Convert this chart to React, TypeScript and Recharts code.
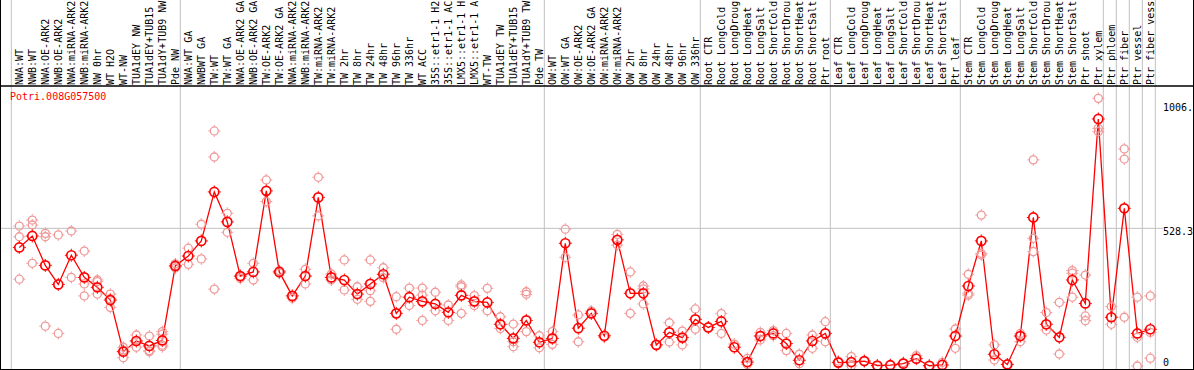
import { ComposedChart, Line, Scatter, XAxis, YAxis, ReferenceLine } from "recharts";

const geneId = "Potri.008G057500";

const categories = [
  "NWA:WT", "NWB:WT", "NWA:OE-ARK2", "NWB:OE-ARK2", "NWA:miRNA-ARK2", "NWB:miRNA-ARK2",
  "NW 0hr", "WT H2O", "WT-NW", "TUA1dEY NW", "TUA1dEY+TUB15 NW", "TUA1dY+TUB9 NW", "Pde NW",
  "NWA:WT GA", "NWBWT GA", "TW:WT", "TW:WT GA", "NWA:OE-ARK2 GA", "NWB:OE-ARK2 GA",
  "TW:OE-ARK2", "TW:OE-ARK2 GA", "NWA:miRNA-ARK2 GA", "NWB:miRNA-ARK2 GA", "TW:miRNA-ARK2",
  "TW:miRNA-ARK2 GA", "TW 2hr", "TW 8hr", "TW 24hr", "TW 48hr", "TW 96hr", "TW 336hr",
  "WT ACC", "35S::etr1-1 H2O", "35S::etr1-1 ACC", "LMX5::etr1-1 H2O", "LMX5::etr1-1 ACC",
  "WT-TW", "TUA1dEY TW", "TUA1dEY+TUB15 TW", "TUA1dY+TUB9 TW", "Pde TW",
  "OW:WT", "OW:WT GA", "OW:OE-ARK2", "OW:OE-ARK2 GA", "OW:miRNA-ARK2", "OW:miRNA-ARK2 GA",
  "OW 2hr", "OW 8hr", "OW 24hr", "OW 48hr", "OW 96hr", "OW 336hr",
  "Root CTR", "Root LongCold", "Root LongDrought", "Root LongHeat", "Root LongSalt",
  "Root ShortCold", "Root ShortDrought", "Root ShortHeat", "Root ShortSalt", "Ptr root",
  "Leaf CTR", "Leaf LongCold", "Leaf LongDrought", "Leaf LongHeat", "Leaf LongSalt",
  "Leaf ShortCold", "Leaf ShortDrought", "Leaf ShortHeat", "Leaf ShortSalt", "Ptr leaf",
  "Stem CTR", "Stem LongCold", "Stem LongDrought", "Stem LongHeat", "Stem LongSalt",
  "Stem ShortCold", "Stem ShortDrought", "Stem ShortHeat", "Stem ShortSalt", "Ptr shoot",
  "Ptr xylem", "Ptr phloem", "Ptr fiber", "Ptr vessel", "Ptr fiber vessel",
];

// mean expression per sample
const means = [
  455, 499, 386, 313, 425, 340, 302, 253, 55, 96, 77, 98, 384,
  422, 480, 668, 553, 345, 361, 672, 361, 269, 345, 647, 340, 330, 276, 315, 352, 202,
  264, 248, 238, 206, 271, 248, 244, 160, 106, 175, 91,
  106, 471, 145, 202, 116, 484, 279, 279, 81, 129, 109, 179,
  148, 171, 72, 15, 115, 125, 86, 22, 96, 125,
  13, 15, 19, 2, 3, 9, 28, 1, 4, 115,
  307, 480, 45, 6, 115, 570, 160, 110, 330, 240, 948,
  187, 605, 125, 141,
];

// individual replicates per sample
const replicates = [
  [537, 496, 333], [560, 541, 394], [509, 496, 153], [503, 125], [518, 340],
  [441, 315, 269], [330, 324, 276], [276, 258, 225], [72, 61, 32], [119, 96, 72],
  [115, 59, 55], [132, 122, 80, 74], [392, 384, 376],
  [452, 390], [544, 411], [902, 802, 295], [586, 513], [343, 336], [394, 330],
  [714, 631], [366, 356], [260], [371, 315], [724, 576], [353, 330], [407, 292],
  [304, 256], [407, 289, 248], [377, 339], [266, 141], [299, 232], [299, 272, 175],
  [283, 212], [234, 175], [311, 304, 202], [270, 232], [298, 212], [189, 144],
  [161, 93, 74], [285, 275, 132], [116, 70],
  [132, 83], [525, 417], [196, 93], [211], [110], [505, 464], [361, 202],
  [307, 296, 238], [81], [166, 92], [134, 81], [219, 141],
  [148], [201, 125], [84], [29, 6], [129, 100], [136, 116], [125, 59], [45, 9],
  [119, 68], [170, 93],
  [19], [36, 0], [19], [0], [3], [13], [40], [1], [14], [142, 68],
  [352, 279, 272], [579, 432, 426], [81, 23], [6], [125, 93], [791, 490, 439],
  [205, 138], [244, 46], [366, 356, 264], [349, 192, 174], [1027, 912, 899],
  [228, 160], [833, 794, 187], [264, 110, 0], [269, 129, 30],
];

// index of first sample in each group (last = end)
const groupStarts = [0, 13, 41, 53, 63, 73, 84, 85, 86, 87, 88];

const yTicks = [0, 528.3, 1006];
const yTickLabels = ["0", "528.3", "1006."];

const meanData = means.map((v, i) => ({ i, v }));
const repData = replicates.flatMap((vals, i) => vals.map((v) => ({ i, v })));

const FONT = '"DejaVu Sans Mono", monospace';
const X_DOMAIN = [-1.4846, 90.3615];
const Y_DOMAIN = [-15.35, 1074.4];
const Y_TOP_OF_IMAGE = 1404.5;
const MAX_CHARS = 14; // header only has room for this many

const shortLabel = (s: string) => (s.length > MAX_CHARS ? s.slice(0, MAX_CHARS).trimEnd() : s);

const CatTick = (props: any) => {
  const { x, payload } = props;
  return (
    <text
      transform={`translate(${x + 3.6},85) rotate(-90)`}
      fontFamily={FONT}
      fontSize={10}
      fill="#000"
    >
      {shortLabel(categories[payload.value])}
    </text>
  );
};

const ValTick = (props: any) => {
  const { y, payload } = props;
  const idx = yTicks.indexOf(payload.value);
  return (
    <text x={1163} y={Math.min(y + 7, 365.5)} fontFamily={FONT} fontSize={10} fill="#000">
      {yTickLabels[idx]}
    </text>
  );
};

const MeanDot = (props: any) => {
  const { cx, cy, index } = props;
  if (cx == null || cy == null) return <g key={index} />;
  return (
    <g key={index}>
      <circle cx={cx} cy={cy} r={4.5} fill="none" stroke="#ff0000" strokeWidth={1.7} />
      <line x1={cx} y1={cy - 6.5} x2={cx} y2={cy - 5} stroke="#ff0000" strokeWidth={1} />
      <line x1={cx} y1={cy + 5} x2={cx} y2={cy + 6.5} stroke="#ff0000" strokeWidth={1} />
      <line x1={cx - 6.5} y1={cy} x2={cx - 5} y2={cy} stroke="#ff0000" strokeWidth={1} />
      <line x1={cx + 5} y1={cy} x2={cx + 6.5} y2={cy} stroke="#ff0000" strokeWidth={1} />
    </g>
  );
};

const RepDot = (props: any) => {
  const { cx, cy } = props;
  return (
    <g>
      <circle cx={cx} cy={cy} r={4} fill="none" stroke="#f09898" strokeWidth={1.3} />
      <line x1={cx} y1={cy - 6} x2={cx} y2={cy - 4.5} stroke="#f09898" strokeWidth={1} />
      <line x1={cx} y1={cy + 4.5} x2={cx} y2={cy + 6} stroke="#f09898" strokeWidth={1} />
      <line x1={cx - 6} y1={cy} x2={cx - 4.5} y2={cy} stroke="#f09898" strokeWidth={1} />
      <line x1={cx + 4.5} y1={cy} x2={cx + 6} y2={cy} stroke="#f09898" strokeWidth={1} />
    </g>
  );
};

export default function App() {
  return (
    <div style={{ position: "relative", width: 1194, height: 370, background: "#fff" }}>
      <style>{"body{margin:0}"}</style>
      <ComposedChart
        width={1194}
        height={370}
        data={meanData}
        margin={{ top: 0, right: 0, bottom: 0, left: 0 }}
      >
        <XAxis
          type="number"
          dataKey="i"
          orientation="top"
          domain={X_DOMAIN}
          allowDataOverflow
          ticks={categories.map((_, i) => i)}
          interval={0}
          tick={CatTick}
          axisLine={false}
          tickLine={false}
          height={86}
        />
        <YAxis
          type="number"
          dataKey="v"
          orientation="right"
          mirror
          domain={Y_DOMAIN}
          allowDataOverflow
          ticks={yTicks}
          interval={0}
          tick={ValTick}
          axisLine={false}
          tickLine={false}
          width={40}
        />
        {groupStarts.map((b) => (
          <ReferenceLine
            key={`sep-${b}`}
            segment={[
              { x: b - 0.615, y: Y_DOMAIN[0] },
              { x: b - 0.615, y: Y_TOP_OF_IMAGE },
            ]}
            ifOverflow="visible"
            stroke="#c0c0c0"
            strokeWidth={1}
          />
        ))}
        <ReferenceLine
          segment={[
            { x: X_DOMAIN[0], y: 528.3 },
            { x: (1163 - 19.3) / 13, y: 528.3 },
          ]}
          ifOverflow="visible"
          stroke="#c0c0c0"
          strokeWidth={1}
        />
        <ReferenceLine y={Y_DOMAIN[1]} stroke="#000" strokeWidth={1.5} ifOverflow="visible" />
        <Scatter data={repData} shape={RepDot} isAnimationActive={false} />
        <Line
          type="linear"
          dataKey="v"
          stroke="#ff0000"
          strokeWidth={1.3}
          dot={MeanDot}
          activeDot={false}
          isAnimationActive={false}
        />
      </ComposedChart>
      <div
        style={{
          position: "absolute",
          left: 10,
          top: 92,
          fontFamily: FONT,
          fontSize: 10,
          lineHeight: "10px",
          color: "#ff0000",
          whiteSpace: "pre",
        }}
      >
        {geneId}
      </div>
      <div
        style={{
          position: "absolute",
          left: 0,
          top: 0,
          width: 1194,
          height: 370,
          boxSizing: "border-box",
          borderLeft: "1px solid #000",
          borderRight: "1px solid #000",
          borderBottom: "1px solid #000",
          pointerEvents: "none",
        }}
      />
    </div>
  );
}
